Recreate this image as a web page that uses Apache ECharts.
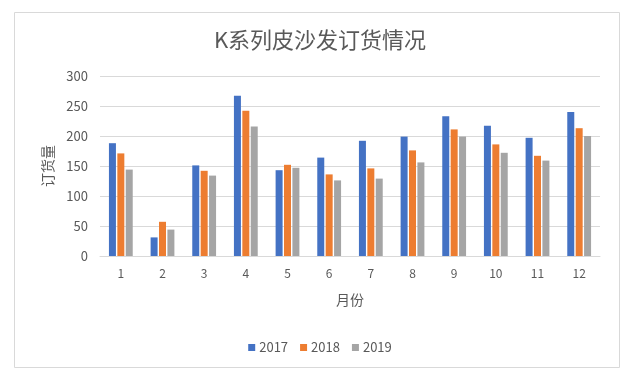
<!DOCTYPE html>
<html>
<head>
<meta charset="utf-8">
<script src="https://cdn.jsdelivr.net/npm/echarts@6/dist/echarts.min.js"></script>
<style>
html,body{margin:0;padding:0;background:#fff;}
#c{width:640px;height:373px;}
</style>
</head>
<body>
<div id="c"></div>
<script>
const months = ['1','2','3','4','5','6','7','8','9','10','11','12'];
const s2017 = [188, 31, 151, 267, 143, 164, 192, 199, 233, 217, 197, 240];
const s2018 = [171, 57, 142, 242, 152, 136, 146, 176, 211, 186, 167, 213];
const s2019 = [144, 44, 134, 216, 147, 126, 129, 156, 199, 172, 159, 200];
const yTicks = [0, 50, 100, 150, 200, 250, 300];

const FONT = '"Noto Sans CJK SC", "Noto Sans", sans-serif';
const TXT = '#595959';
const chart = echarts.init(document.getElementById('c'));
function bar(name, data, color) {
  return {
    name, type: 'bar', data, barWidth: 7, barGap: '20%',
    itemStyle: { color }
  };
}
chart.setOption({
  animation: false,
  textStyle: { fontFamily: FONT },
  graphic: [{
    type: 'rect', shape: { x: 14.5, y: 12.5, width: 605, height: 355 },
    style: { fill: 'none', stroke: '#d9d9d9', lineWidth: 1 }, silent: true
  }],
  title: {
    text: 'K系列皮沙发订货情况', left: 'center', top: 24,
    textStyle: { fontFamily: FONT, fontSize: 22, fontWeight: 'normal', color: TXT }
  },
  legend: {
    data: ['2017', '2018', '2019'], top: 336, left: 'center',
    icon: 'rect', itemWidth: 7, itemHeight: 7, itemGap: 12,
    textStyle: { fontFamily: FONT, fontSize: 13, color: TXT, padding: [0, 0, 0, -1] }
  },
  grid: { left: 100, right: 40, top: 76, bottom: 117 },
  xAxis: {
    type: 'category', data: months,
    name: '月份', nameLocation: 'middle', nameGap: 37,
    nameTextStyle: { fontFamily: FONT, fontSize: 14, color: TXT },
    axisLine: { lineStyle: { color: '#d9d9d9' } },
    axisTick: { show: false },
    axisLabel: { color: TXT, fontSize: 12, margin: 11, fontFamily: FONT }
  },
  yAxis: {
    type: 'value', min: yTicks[0], max: yTicks[yTicks.length - 1], interval: 50,
    name: '订货量', nameLocation: 'middle', nameGap: 45,
    nameTextStyle: { fontFamily: FONT, fontSize: 14, color: TXT },
    axisLine: { show: false }, axisTick: { show: false },
    axisLabel: { color: TXT, fontSize: 13, margin: 12, fontFamily: FONT },
    splitLine: { lineStyle: { color: '#d9d9d9' } }
  },
  series: [
    bar('2017', s2017, '#4472C4'),
    bar('2018', s2018, '#ED7D31'),
    bar('2019', s2019, '#A5A5A5')
  ]
});
</script>
</body>
</html>
